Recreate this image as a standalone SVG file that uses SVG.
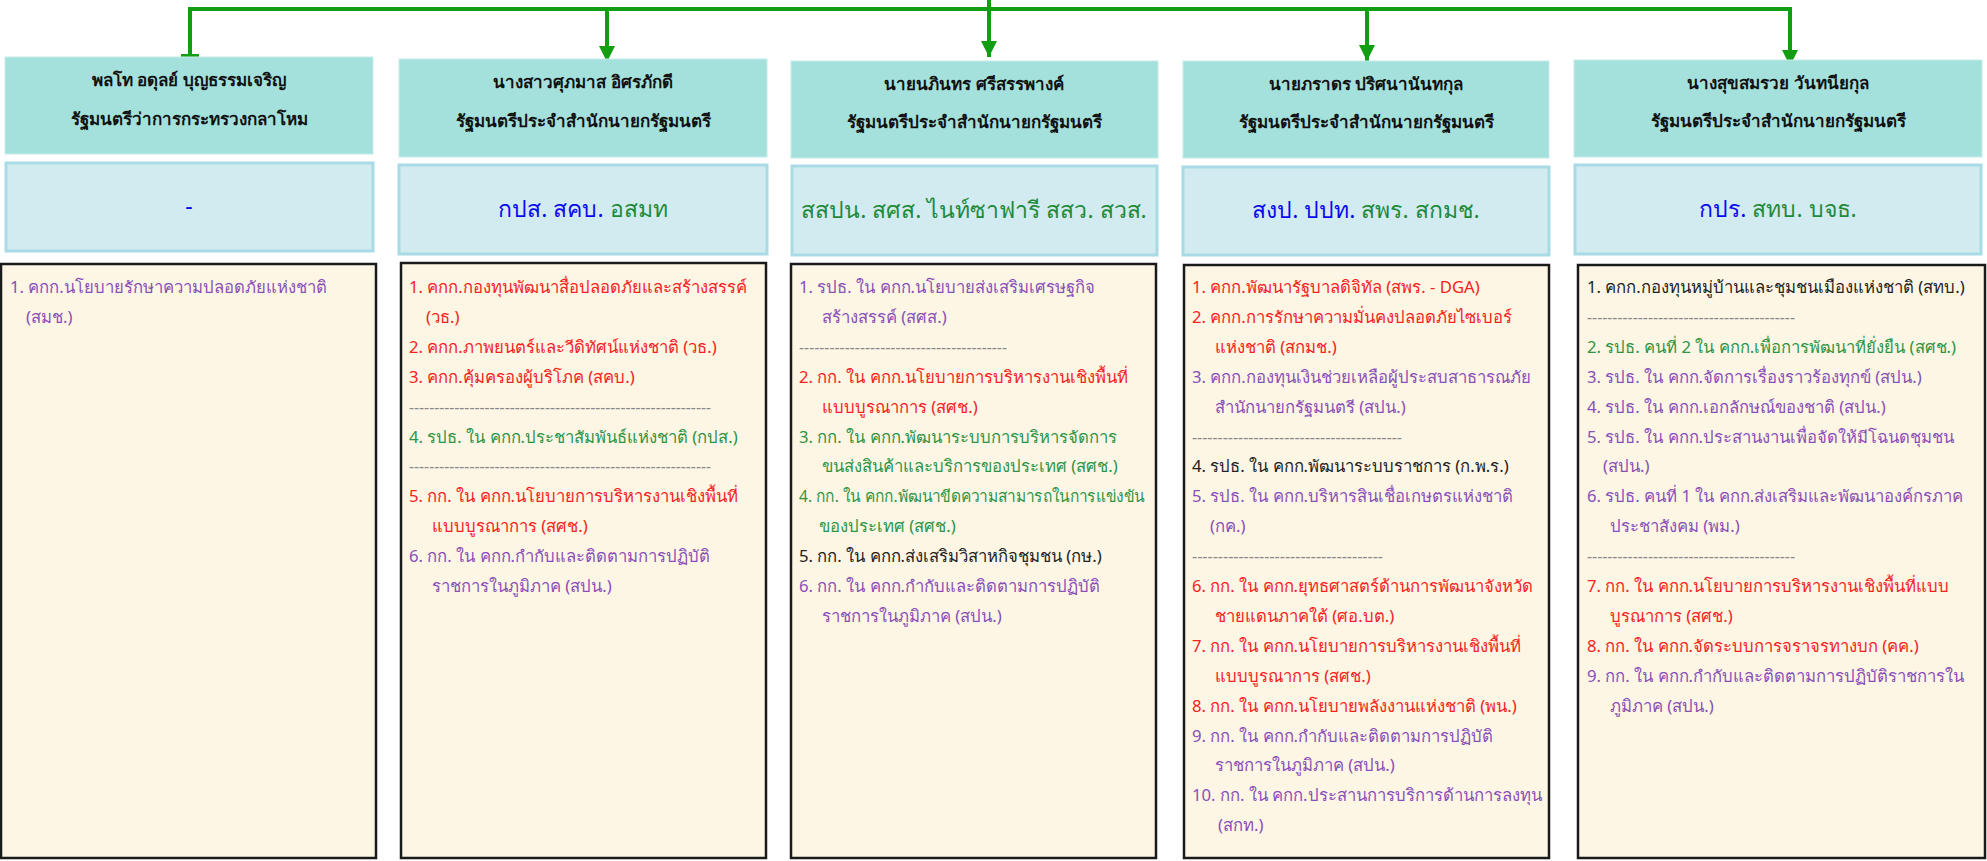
<svg xmlns="http://www.w3.org/2000/svg" width="1987" height="861" viewBox="0 0 1987 861">
<defs>
<marker id="arr" markerUnits="userSpaceOnUse" markerWidth="18" markerHeight="16" refX="16" refY="8" orient="auto"><path d="M0,0 L16,8 L0,16 Z" fill="#129d12"/></marker>
<marker id="tee" markerUnits="userSpaceOnUse" markerWidth="6" markerHeight="18" refX="3" refY="9" orient="auto"><rect x="1" y="0" width="3" height="18" fill="#129d12"/></marker>
<style>
.hd{fill:#a4e1dc;stroke:#c6ece9;stroke-width:1}
.sb{fill:#d2ebf0;stroke:#a9dbe6;stroke-width:3}
.ls{fill:#fdf6e4;stroke:#1a1a1a;stroke-width:2.5}
.ht{font-family:"Noto Sans","DejaVu Sans",sans-serif;font-size:17px;font-weight:bold;fill:#111;text-anchor:middle}
.st{font-family:"Noto Sans","DejaVu Sans",sans-serif;font-size:23px;text-anchor:middle}
.lt{font-family:"Noto Sans","DejaVu Sans",sans-serif;font-size:16.7px}
.b{fill:#0a0af0}.g{fill:#1f8a3a}.r{fill:#f52222}.p{fill:#8a4fb9}.k{fill:#222}.gr{fill:#888}.lg{fill:#2e9444}
.cn{fill:none;stroke:#129d12;stroke-width:4}
</style>
</defs>
<g id="connectors">
<path class="cn" d="M190 56 V9 H1790 V66" marker-end="url(#arr)"/>
<path class="cn" d="M190 9 V56" marker-end="url(#tee)"/>
<path class="cn" d="M989 0 V57" marker-end="url(#arr)"/>
<path class="cn" d="M607 9 V62" marker-end="url(#arr)"/>
<path class="cn" d="M1367 9 V61" marker-end="url(#arr)"/>
</g>
<g id="node1">
<rect class="hd" x="5" y="57" width="368" height="97"/>
<text class="ht" x="189" y="86">พลโท อดุลย์ บุญธรรมเจริญ</text>
<text class="ht" x="189" y="125">รัฐมนตรีว่าการกระทรวงกลาโหม</text>
<rect class="sb" x="6" y="163" width="367" height="88"/>
<text class="st b" x="189" y="214">-</text>
<rect class="ls" x="1" y="264" width="375" height="594"/>
<text class="lt p" x="10" y="293">1. คกก.นโยบายรักษาความปลอดภัยแห่งชาติ</text>
<text class="lt p" x="26" y="323">(สมช.)</text>
</g>
<g id="node2">
<rect class="hd" x="399" y="59" width="368" height="98"/>
<text class="ht" x="583" y="88">นางสาวศุภมาส อิศรภักดี</text>
<text class="ht" x="583" y="127">รัฐมนตรีประจำสำนักนายกรัฐมนตรี</text>
<rect class="sb" x="399" y="165" width="368" height="89"/>
<text class="st" x="583" y="217"><tspan class="b">กปส. สคบ.</tspan><tspan class="g"> อสมท</tspan></text>
<rect class="ls" x="401" y="263" width="365" height="595"/>
<text class="lt r" x="409" y="293">1. คกก.กองทุนพัฒนาสื่อปลอดภัยและสร้างสรรค์</text>
<text class="lt r" x="426" y="323">(วธ.)</text>
<text class="lt r" x="409" y="353">2. คกก.ภาพยนตร์และวีดิทัศน์แห่งชาติ (วธ.)</text>
<text class="lt r" x="409" y="383">3. คกก.คุ้มครองผู้บริโภค (สคบ.)</text>
<text class="lt gr" x="409" y="413" textLength="302" lengthAdjust="spacingAndGlyphs">------------------------------------------------------------</text>
<text class="lt lg" x="409" y="442.5">4. รปธ. ใน คกก.ประชาสัมพันธ์แห่งชาติ (กปส.)</text>
<text class="lt gr" x="409" y="472.4" textLength="302" lengthAdjust="spacingAndGlyphs">------------------------------------------------------------</text>
<text class="lt r" x="409" y="502.3">5. กก. ใน คกก.นโยบายการบริหารงานเชิงพื้นที่</text>
<text class="lt r" x="432" y="532.2">แบบบูรณาการ (สศช.)</text>
<text class="lt p" x="409" y="562.1">6. กก. ใน คกก.กำกับและติดตามการปฏิบัติ</text>
<text class="lt p" x="432" y="592">ราชการในภูมิภาค (สปน.)</text>
</g>
<g id="node3">
<rect class="hd" x="791" y="61" width="367" height="97"/>
<text class="ht" x="974" y="90">นายนภินทร ศรีสรรพางค์</text>
<text class="ht" x="974" y="128">รัฐมนตรีประจำสำนักนายกรัฐมนตรี</text>
<rect class="sb" x="792" y="166" width="365" height="89"/>
<text class="st g" x="974" y="218">สสปน. สศส. ไนท์ซาฟารี สสว. สวส.</text>
<rect class="ls" x="791" y="264" width="365" height="594"/>
<text class="lt p" x="799" y="293">1. รปธ. ใน คกก.นโยบายส่งเสริมเศรษฐกิจ</text>
<text class="lt p" x="822" y="323">สร้างสรรค์ (สศส.)</text>
<text class="lt gr" x="799" y="353" textLength="208" lengthAdjust="spacingAndGlyphs">-----------------------------------------</text>
<text class="lt r" x="799" y="383">2. กก. ใน คกก.นโยบายการบริหารงานเชิงพื้นที่</text>
<text class="lt r" x="822" y="413">แบบบูรณาการ (สศช.)</text>
<text class="lt lg" x="799" y="442.5">3. กก. ใน คกก.พัฒนาระบบการบริหารจัดการ</text>
<text class="lt lg" x="822" y="472.4">ขนส่งสินค้าและบริการของประเทศ (สศช.)</text>
<text class="lt lg" x="799" y="502.3" textLength="345" lengthAdjust="spacingAndGlyphs">4. กก. ใน คกก.พัฒนาขีดความสามารถในการแข่งขัน</text>
<text class="lt lg" x="819" y="532.2">ของประเทศ (สศช.)</text>
<text class="lt k" x="799" y="562.1">5. กก. ใน คกก.ส่งเสริมวิสาหกิจชุมชน (กษ.)</text>
<text class="lt p" x="799" y="592">6. กก. ใน คกก.กำกับและติดตามการปฏิบัติ</text>
<text class="lt p" x="822" y="621.9">ราชการในภูมิภาค (สปน.)</text>
</g>
<g id="node4">
<rect class="hd" x="1183" y="61" width="366" height="97"/>
<text class="ht" x="1366" y="90">นายภราดร ปริศนานันทกุล</text>
<text class="ht" x="1366" y="128">รัฐมนตรีประจำสำนักนายกรัฐมนตรี</text>
<rect class="sb" x="1183" y="167" width="366" height="88"/>
<text class="st" x="1366" y="218"><tspan class="b">สงป. ปปท.</tspan><tspan class="g"> สพร. สกมช.</tspan></text>
<rect class="ls" x="1184" y="265" width="365" height="593"/>
<text class="lt r" x="1192" y="293">1. คกก.พัฒนารัฐบาลดิจิทัล (สพร. - DGA)</text>
<text class="lt r" x="1192" y="323">2. คกก.การรักษาความมั่นคงปลอดภัยไซเบอร์</text>
<text class="lt r" x="1215" y="353">แห่งชาติ (สกมช.)</text>
<text class="lt p" x="1192" y="383">3. คกก.กองทุนเงินช่วยเหลือผู้ประสบสาธารณภัย</text>
<text class="lt p" x="1215" y="413">สำนักนายกรัฐมนตรี (สปน.)</text>
<text class="lt gr" x="1192" y="442.5" textLength="210" lengthAdjust="spacingAndGlyphs">-----------------------------------------</text>
<text class="lt k" x="1192" y="472.4">4. รปธ. ใน คกก.พัฒนาระบบราชการ (ก.พ.ร.)</text>
<text class="lt p" x="1192" y="502.3">5. รปธ. ใน คกก.บริหารสินเชื่อเกษตรแห่งชาติ</text>
<text class="lt p" x="1210" y="532.2">(กค.)</text>
<text class="lt gr" x="1192" y="562.1" textLength="191" lengthAdjust="spacingAndGlyphs">-------------------------------------</text>
<text class="lt r" x="1192" y="592">6. กก. ใน คกก.ยุทธศาสตร์ด้านการพัฒนาจังหวัด</text>
<text class="lt r" x="1215" y="621.9">ชายแดนภาคใต้ (ศอ.บต.)</text>
<text class="lt r" x="1192" y="651.8">7. กก. ใน คกก.นโยบายการบริหารงานเชิงพื้นที่</text>
<text class="lt r" x="1215" y="681.7">แบบบูรณาการ (สศช.)</text>
<text class="lt r" x="1192" y="711.6">8. กก. ใน คกก.นโยบายพลังงานแห่งชาติ (พน.)</text>
<text class="lt p" x="1192" y="741.5">9. กก. ใน คกก.กำกับและติดตามการปฏิบัติ</text>
<text class="lt p" x="1215" y="771.4">ราชการในภูมิภาค (สปน.)</text>
<text class="lt p" x="1192" y="801.3">10. กก. ใน คกก.ประสานการบริการด้านการลงทุน</text>
<text class="lt p" x="1218" y="831.2">(สกท.)</text>
</g>
<g id="node5">
<rect class="hd" x="1574" y="60" width="408" height="97"/>
<text class="ht" x="1778" y="89">นางสุขสมรวย วันทนียกุล</text>
<text class="ht" x="1778" y="127">รัฐมนตรีประจำสำนักนายกรัฐมนตรี</text>
<rect class="sb" x="1575" y="165" width="406" height="89"/>
<text class="st" x="1778" y="217"><tspan class="b">กปร.</tspan><tspan class="g"> สทบ. บจธ.</tspan></text>
<rect class="ls" x="1578" y="265" width="407" height="593"/>
<text class="lt k" x="1587" y="293">1. คกก.กองทุนหมู่บ้านและชุมชนเมืองแห่งชาติ (สทบ.)</text>
<text class="lt gr" x="1587" y="323" textLength="208" lengthAdjust="spacingAndGlyphs">-----------------------------------------</text>
<text class="lt lg" x="1587" y="353">2. รปธ. คนที่ 2 ใน คกก.เพื่อการพัฒนาที่ยั่งยืน (สศช.)</text>
<text class="lt p" x="1587" y="383">3. รปธ. ใน คกก.จัดการเรื่องราวร้องทุกข์ (สปน.)</text>
<text class="lt p" x="1587" y="413">4. รปธ. ใน คกก.เอกลักษณ์ของชาติ (สปน.)</text>
<text class="lt p" x="1587" y="442.5">5. รปธ. ใน คกก.ประสานงานเพื่อจัดให้มีโฉนดชุมชน</text>
<text class="lt p" x="1603" y="472.4">(สปน.)</text>
<text class="lt p" x="1587" y="502.3">6. รปธ. คนที่ 1 ใน คกก.ส่งเสริมและพัฒนาองค์กรภาค</text>
<text class="lt p" x="1610" y="532.2">ประชาสังคม (พม.)</text>
<text class="lt gr" x="1587" y="562.1" textLength="208" lengthAdjust="spacingAndGlyphs">-----------------------------------------</text>
<text class="lt r" x="1587" y="592">7. กก. ใน คกก.นโยบายการบริหารงานเชิงพื้นที่แบบ</text>
<text class="lt r" x="1610" y="621.9">บูรณาการ (สศช.)</text>
<text class="lt r" x="1587" y="651.8">8. กก. ใน คกก.จัดระบบการจราจรทางบก (คค.)</text>
<text class="lt p" x="1587" y="681.7">9. กก. ใน คกก.กำกับและติดตามการปฏิบัติราชการใน</text>
<text class="lt p" x="1610" y="711.6">ภูมิภาค (สปน.)</text>
</g>
</svg>
